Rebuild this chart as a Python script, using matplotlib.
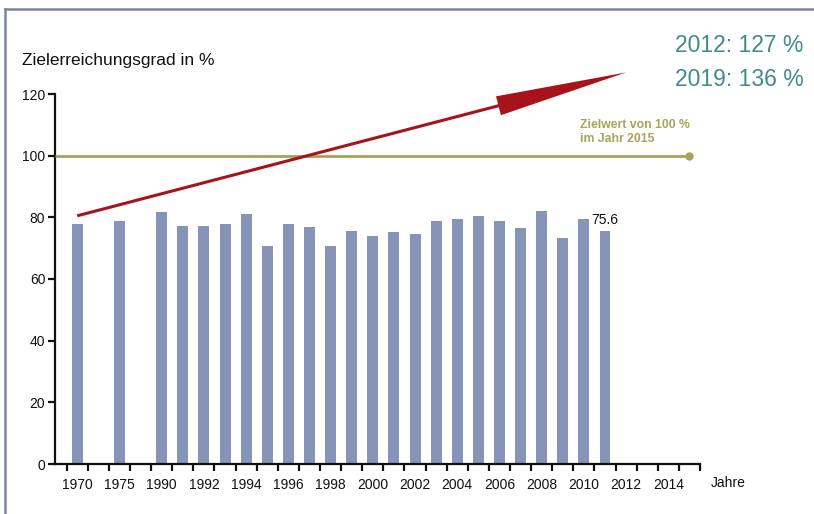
import numpy as np
import matplotlib
matplotlib.use('Agg')
import matplotlib.pyplot as plt
from matplotlib.lines import Line2D

plt.rcParams['font.family'] = ['Liberation Sans', 'DejaVu Sans']

# categories on the time axis (one empty slot after 1970 and 1975)
years = ['1970', '1975', '1990', '1991', '1992', '1993', '1994', '1995', '1996',
         '1997', '1998', '1999', '2000', '2001', '2002', '2003', '2004', '2005',
         '2006', '2007', '2008', '2009', '2010', '2011', '2012', '2013', '2014', '2015']
# Zielerreichungsgrad in % (1970 .. 2011)
values = [78.0, 78.8, 81.8, 77.3, 77.3, 78.0, 81.2, 70.7, 78.0, 76.9, 70.7, 75.6,
          73.9, 75.3, 74.6, 78.8, 79.6, 80.5, 78.8, 76.4, 82.1, 73.2, 79.6, 75.6]
labelled_years = ['1970', '1975', '1990', '1992', '1994', '1996', '1998', '2000',
                  '2002', '2004', '2006', '2008', '2010', '2012', '2014']
yticks = [0, 20, 40, 60, 80, 100, 120]

target_value = 100
target_year = '2015'
trend_start = ('1970', 80.5)
trend_end = ('2012', 127)
projections = ['2012: 127 %', '2019: 136 %']
last_label = '75.6'

slot = {}
s = 0
for y in years:
    slot[y] = s
    s += 2 if y in ('1970', '1975') else 1
n_slots = s

W, H = 814, 514
fig = plt.figure(figsize=(W / 100, H / 100), dpi=100)
fig.patch.set_facecolor('white')

ax = fig.add_axes([55 / W, 50 / H, 645 / W, 370 / H])
x_left = -0.5 - 11.7 / 21.11
ax.set_xlim(x_left, n_slots - 0.5)
ax.set_ylim(0, 120)

bar_x = [slot[y] for y in years[:len(values)]]
ax.bar(bar_x, values, width=0.52, color='#8694b7', zorder=2)

ax.text(slot[years[len(values) - 1]], values[-1] + 1.3, last_label,
        ha='center', va='bottom', fontsize=10, color='#111111')

# target line at 100 %
ax.plot([x_left, slot[target_year]], [target_value, target_value],
        color='#a4a35a', lw=2.0, clip_on=False, zorder=3, solid_capstyle='butt')
ax.plot([slot[target_year]], [target_value], marker='o', ms=5,
        color='#a4a35a', clip_on=False, zorder=3)
ax.text(23.8, 107.6, 'Zielwert von 100 %\nim Jahr 2015', ha='left', va='center',
        fontsize=8.8, fontweight='bold', color='#a7a35a', linespacing=1.2)

# trend arrow
ax.annotate('', xy=(slot[trend_end[0]], trend_end[1]),
            xytext=(slot[trend_start[0]], trend_start[1]),
            annotation_clip=False,
            arrowprops=dict(arrowstyle='simple,head_length=95,head_width=14,tail_width=2.2',
                            mutation_scale=1, color='#a8121b', lw=0,
                            shrinkA=0, shrinkB=0), zorder=4)

for i, t in enumerate(projections):
    fig.text(675 / W, 1 - (46 + 34 * i) / H, t, ha='left', va='center',
             fontsize=16.5, color='#3f8c8d')

fig.text(22 / W, 1 - 60 / H, 'Zielerreichungsgrad in %', ha='left', va='center',
         fontsize=12.5, color='#111111')

# axes styling
for side in ('top', 'right'):
    ax.spines[side].set_visible(False)
for side in ('left', 'bottom'):
    ax.spines[side].set_linewidth(1.6)
    ax.spines[side].set_color('#111111')

ax.set_yticks(yticks)
ax.tick_params(axis='y', length=5, width=1.6, pad=2, labelsize=10,
               color='#111111', labelcolor='#111111')
ax.set_xticks(np.arange(-0.5, n_slots, 1.0))
ax.set_xticklabels([])
ax.tick_params(axis='x', which='major', length=5, width=1.6, color='#111111')
ax.set_xticks([slot[y] for y in labelled_years], labelled_years, minor=True)
ax.tick_params(axis='x', which='minor', length=0, pad=10, labelsize=10,
               labelcolor='#111111')

fig.text(728 / W, 1 - 483 / H, 'Jahre', ha='center', va='center',
         fontsize=10, color='#111111')

# frame
fig.add_artist(Line2D([5 / W, 1], [1 - 9 / H] * 2, color='#7c879b', lw=1.8))
fig.add_artist(Line2D([5 / W] * 2, [0, 1 - 9 / H], color='#7c879b', lw=1.8))

fig.savefig('out.png', dpi=100)
